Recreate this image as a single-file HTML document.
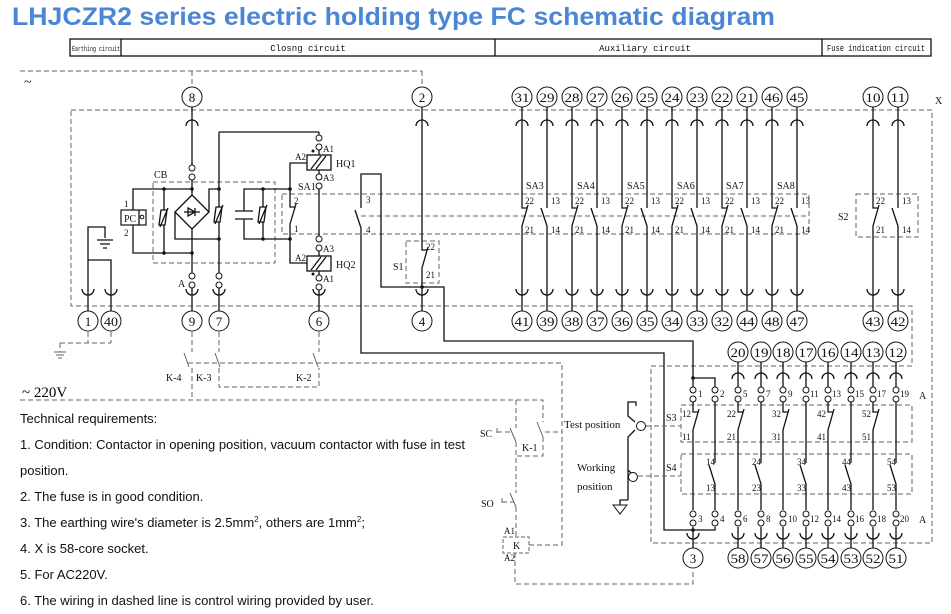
<!DOCTYPE html>
<html><head><meta charset="utf-8"><style>
html,body{margin:0;padding:0;background:#fff;}
svg{display:block;}
.s{stroke:#111;stroke-width:1.3;fill:none;}
.d{stroke:#666;stroke-width:1;fill:none;stroke-dasharray:5,3;}
.t{fill:#fff;stroke:#111;stroke-width:1;}
.n{font-family:"Liberation Serif",serif;font-size:13px;text-anchor:middle;fill:#111;}
.l{font-family:"Liberation Serif",serif;font-size:10px;fill:#111;}
.m{font-family:"Liberation Serif",serif;font-size:9px;fill:#111;}
.h{font-family:"Liberation Mono",monospace;font-size:9px;fill:#111;text-anchor:middle;}
.r{font-family:"Liberation Sans",Arial,sans-serif;font-size:13px;fill:#111;}
</style></head><body>
<svg width="951" height="614" viewBox="0 0 951 614" xmlns="http://www.w3.org/2000/svg">
<defs>
<path id="ta" d="M-6,4 A6,6 0 0 1 6,4" style="stroke:#111;stroke-width:1.3;fill:none"/>
<path id="ba" d="M-6,-4 A6,6 0 0 0 6,-4" style="stroke:#111;stroke-width:1.3;fill:none"/>
<g id="tp"><circle cx="0" cy="0" r="3" class="t"/><circle cx="0" cy="9" r="3" class="t"/></g>
</defs>
<text x="12" y="25" textLength="763" lengthAdjust="spacingAndGlyphs" style="font-family:'Liberation Sans',Arial,sans-serif;font-weight:bold;font-size:25px;fill:#4a86d4">LHJCZR2 series electric holding type FC schematic diagram</text>
<!-- header -->
<rect x="70" y="39" width="861" height="17" fill="none" stroke="#111" stroke-width="1.3"/>
<path class="s" d="M121,39V56M495,39V56M822,39V56"/>
<text x="96" y="51" class="h" style="font-size:7px" textLength="48" lengthAdjust="spacingAndGlyphs">Earthing circuit</text>
<text x="308" y="51" class="h">Closng circuit</text>
<text x="645" y="51" class="h">Auxiliary circuit</text>
<text x="876" y="51" class="h" textLength="98" lengthAdjust="spacingAndGlyphs">Fuse indication circuit</text>
<text x="24" y="86" style="font-family:'Liberation Serif',serif;font-size:14px">~</text>
<text x="935" y="104" class="l">X</text>
<!-- dashed frames -->
<path class="d" d="M20,71H422M192,71V86M422,71V86"/>
<path class="d" d="M71,110H932V543H651V366H912V306H71Z"/>
<path class="d" d="M153,182H275V263H153Z"/>
<path class="d" d="M282,194H809V234H282ZM361,216H809"/>
<path class="d" d="M406,241H439V283H406Z"/>
<path class="d" d="M856,194H918V237H856Z"/>
<path class="d" d="M681,405H912V442H681ZM681,454H912V494H681Z"/>
<!-- top circles left -->
<circle cx="192" cy="97" r="10" class="t"/><text x="192" y="102" class="n">8</text>
<circle cx="422" cy="97" r="10" class="t"/><text x="422" y="102" class="n">2</text>
<!-- bottom circles left -->
<circle cx="88" cy="321" r="10" class="t"/><text x="88" y="326" class="n">1</text>
<circle cx="111" cy="321" r="10" class="t"/><text x="111" y="326" class="n" textLength="14" lengthAdjust="spacingAndGlyphs">40</text>
<circle cx="192" cy="321" r="10" class="t"/><text x="192" y="326" class="n">9</text>
<circle cx="219" cy="321" r="10" class="t"/><text x="219" y="326" class="n">7</text>
<circle cx="319" cy="321" r="10" class="t"/><text x="319" y="326" class="n">6</text>
<circle cx="422" cy="321" r="10" class="t"/><text x="422" y="326" class="n">4</text>
<!-- earthing -->
<path class="s" d="M88,311V227H105V238M97,240H113M100,244H110M103,248H107M88,260H111V311"/>
<use href="#ba" x="88" y="293"/><use href="#ba" x="111" y="293"/>
<!-- PC -->
<rect x="121" y="210" width="25" height="15" fill="#fff" stroke="#111" stroke-width="1.2"/>
<path class="s" d="M139,210V225"/><circle cx="142" cy="217" r="1.8" class="t"/>
<text x="124" y="222" class="l">PC</text>
<text x="124" y="207" class="m">1</text><text x="124" y="236" class="m">2</text>
<path class="s" d="M133,210V189H192M133,225V253H192"/>
<!-- CB components -->
<text x="154" y="178" class="l">CB</text>
<path class="s" d="M164,189V253"/>
<path class="s" d="M161,210L167,210L165,225L159,225Z" style="fill:#fff"/><path class="s" d="M160,227L168,208"/>
<path class="s" d="M192,107V165M192,180V195L209,212L192,229L175,212L192,195M192,229V273M192,288V311"/>
<use href="#ta" x="192" y="122"/><use href="#tp" x="192" y="168"/><use href="#tp" x="192" y="276"/><use href="#ba" x="192" y="293"/>
<path class="s" d="M184,212H200M188,208V216L195,212ZM195,208V216"/>
<path class="s" d="M175,212V239H219M209,212V189H219"/>
<path class="s" d="M219,132V273M219,288V311M219,132H319"/>
<use href="#tp" x="219" y="276"/><use href="#ba" x="219" y="293"/>
<path class="s" d="M216,207L222,207L220,222L214,222Z" style="fill:#fff"/><path class="s" d="M215,224L223,205"/>
<path class="s" d="M263,189H244V211M244,219V239H263M235,211H253M235,219H253M263,189V239M263,189H290M263,239H290"/>
<path class="s" d="M260,207L266,207L264,222L258,222Z" style="fill:#fff"/><path class="s" d="M259,224L267,205"/>
<text x="178" y="287" class="l">A</text>
<circle cx="164" cy="189" r="1.8" fill="#111"/><circle cx="164" cy="253" r="1.8" fill="#111"/>
<circle cx="192" cy="189" r="1.8" fill="#111"/><circle cx="192" cy="253" r="1.8" fill="#111"/>
<circle cx="219" cy="189" r="1.8" fill="#111"/><circle cx="219" cy="239" r="1.8" fill="#111"/>
<circle cx="263" cy="189" r="1.8" fill="#111"/><circle cx="263" cy="239" r="1.8" fill="#111"/>
<circle cx="290" cy="189" r="1.8" fill="#111"/><circle cx="290" cy="239" r="1.8" fill="#111"/>
<!-- HQ & SA1 -->
<path class="s" d="M307,163H290V207h5M296,204L290,224V263H307"/>
<text x="294" y="204" class="m">2</text><text x="294" y="232" class="m">1</text>
<path class="s" d="M319,132V135M319,150V155M319,170V174M319,189V236M319,251V256M319,270V275M319,290V311"/>
<use href="#tp" x="319" y="138"/><use href="#tp" x="319" y="177"/><use href="#tp" x="319" y="239"/><use href="#tp" x="319" y="278"/><use href="#ba" x="319" y="293"/>
<rect x="307" y="155" width="24" height="15" fill="#fff" stroke="#111" stroke-width="1.3"/>
<rect x="307" y="256" width="24" height="15" fill="#fff" stroke="#111" stroke-width="1.3"/>
<path class="s" d="M311,169L321,156M316,169L326,156M311,270L321,257M316,270L326,257"/>
<circle cx="313" cy="151" r="1.5" fill="#111"/><circle cx="313" cy="274" r="1.5" fill="#111"/>
<text x="323" y="152" class="m">A1</text><text x="295" y="160" class="m">A2</text><text x="336" y="167" class="l">HQ1</text>
<text x="323" y="181" class="m">A3</text><text x="298" y="190" class="l">SA1</text>
<text x="323" y="252" class="m">A3</text><text x="295" y="261" class="m">A2</text><text x="336" y="268" class="l">HQ2</text>
<text x="323" y="282" class="m">A1</text>
<!-- switch 3-4 & wires -->
<path class="s" d="M361,208V174H381V287H444V341H693V387M355,210L361,228V353H664V530H715V527"/>
<text x="366" y="203" class="m">3</text><text x="366" y="233" class="m">4</text>
<!-- S1 -->
<path class="s" d="M422,107V250h5M428,247L422,268V311"/>
<use href="#ta" x="422" y="122"/><use href="#ba" x="422" y="293"/>
<circle cx="422" cy="287" r="1.8" fill="#111"/>
<text x="426" y="250" class="m">22</text><text x="426" y="278" class="m">21</text>
<text x="393" y="270" class="l">S1</text>
<!-- aux columns -->
<g>
<circle cx="522" cy="97" r="10" class="t"/><text x="522" y="102" class="n" textLength="15" lengthAdjust="spacingAndGlyphs">31</text>
<circle cx="547" cy="97" r="10" class="t"/><text x="547" y="102" class="n" textLength="15" lengthAdjust="spacingAndGlyphs">29</text>
<circle cx="572" cy="97" r="10" class="t"/><text x="572" y="102" class="n" textLength="15" lengthAdjust="spacingAndGlyphs">28</text>
<circle cx="597" cy="97" r="10" class="t"/><text x="597" y="102" class="n" textLength="15" lengthAdjust="spacingAndGlyphs">27</text>
<circle cx="622" cy="97" r="10" class="t"/><text x="622" y="102" class="n" textLength="15" lengthAdjust="spacingAndGlyphs">26</text>
<circle cx="647" cy="97" r="10" class="t"/><text x="647" y="102" class="n" textLength="15" lengthAdjust="spacingAndGlyphs">25</text>
<circle cx="672" cy="97" r="10" class="t"/><text x="672" y="102" class="n" textLength="15" lengthAdjust="spacingAndGlyphs">24</text>
<circle cx="697" cy="97" r="10" class="t"/><text x="697" y="102" class="n" textLength="15" lengthAdjust="spacingAndGlyphs">23</text>
<circle cx="722" cy="97" r="10" class="t"/><text x="722" y="102" class="n" textLength="15" lengthAdjust="spacingAndGlyphs">22</text>
<circle cx="747" cy="97" r="10" class="t"/><text x="747" y="102" class="n" textLength="15" lengthAdjust="spacingAndGlyphs">21</text>
<circle cx="772" cy="97" r="10" class="t"/><text x="772" y="102" class="n" textLength="15" lengthAdjust="spacingAndGlyphs">46</text>
<circle cx="797" cy="97" r="10" class="t"/><text x="797" y="102" class="n" textLength="15" lengthAdjust="spacingAndGlyphs">45</text>
<circle cx="873" cy="97" r="10" class="t"/><text x="873" y="102" class="n" textLength="15" lengthAdjust="spacingAndGlyphs">10</text>
<circle cx="898" cy="97" r="10" class="t"/><text x="898" y="102" class="n" textLength="15" lengthAdjust="spacingAndGlyphs">11</text>
<circle cx="522" cy="321" r="10" class="t"/><text x="522" y="326" class="n" textLength="15" lengthAdjust="spacingAndGlyphs">41</text>
<circle cx="547" cy="321" r="10" class="t"/><text x="547" y="326" class="n" textLength="15" lengthAdjust="spacingAndGlyphs">39</text>
<circle cx="572" cy="321" r="10" class="t"/><text x="572" y="326" class="n" textLength="15" lengthAdjust="spacingAndGlyphs">38</text>
<circle cx="597" cy="321" r="10" class="t"/><text x="597" y="326" class="n" textLength="15" lengthAdjust="spacingAndGlyphs">37</text>
<circle cx="622" cy="321" r="10" class="t"/><text x="622" y="326" class="n" textLength="15" lengthAdjust="spacingAndGlyphs">36</text>
<circle cx="647" cy="321" r="10" class="t"/><text x="647" y="326" class="n" textLength="15" lengthAdjust="spacingAndGlyphs">35</text>
<circle cx="672" cy="321" r="10" class="t"/><text x="672" y="326" class="n" textLength="15" lengthAdjust="spacingAndGlyphs">34</text>
<circle cx="697" cy="321" r="10" class="t"/><text x="697" y="326" class="n" textLength="15" lengthAdjust="spacingAndGlyphs">33</text>
<circle cx="722" cy="321" r="10" class="t"/><text x="722" y="326" class="n" textLength="15" lengthAdjust="spacingAndGlyphs">32</text>
<circle cx="747" cy="321" r="10" class="t"/><text x="747" y="326" class="n" textLength="15" lengthAdjust="spacingAndGlyphs">44</text>
<circle cx="772" cy="321" r="10" class="t"/><text x="772" y="326" class="n" textLength="15" lengthAdjust="spacingAndGlyphs">48</text>
<circle cx="797" cy="321" r="10" class="t"/><text x="797" y="326" class="n" textLength="15" lengthAdjust="spacingAndGlyphs">47</text>
<circle cx="873" cy="321" r="10" class="t"/><text x="873" y="326" class="n" textLength="15" lengthAdjust="spacingAndGlyphs">43</text>
<circle cx="898" cy="321" r="10" class="t"/><text x="898" y="326" class="n" textLength="15" lengthAdjust="spacingAndGlyphs">42</text>
</g>
<path class="s" d="M522,107V208h5M528,205L522,226V311M547,107V208M541,208L547,226V311
M572,107V208h5M578,205L572,226V311M597,107V208M591,208L597,226V311
M622,107V208h5M628,205L622,226V311M647,107V208M641,208L647,226V311
M672,107V208h5M678,205L672,226V311M697,107V208M691,208L697,226V311
M722,107V208h5M728,205L722,226V311M747,107V208M741,208L747,226V311
M772,107V208h5M778,205L772,226V311M797,107V208M791,208L797,226V311
M873,107V208h5M879,205L873,226V311M898,107V208M892,208L898,226V311"/>
<g>
<use href="#ta" x="522" y="122"/><use href="#ta" x="547" y="122"/><use href="#ta" x="572" y="122"/><use href="#ta" x="597" y="122"/><use href="#ta" x="622" y="122"/><use href="#ta" x="647" y="122"/><use href="#ta" x="672" y="122"/><use href="#ta" x="697" y="122"/><use href="#ta" x="722" y="122"/><use href="#ta" x="747" y="122"/><use href="#ta" x="772" y="122"/><use href="#ta" x="797" y="122"/><use href="#ta" x="873" y="122"/><use href="#ta" x="898" y="122"/>
<use href="#ba" x="522" y="293"/><use href="#ba" x="547" y="293"/><use href="#ba" x="572" y="293"/><use href="#ba" x="597" y="293"/><use href="#ba" x="622" y="293"/><use href="#ba" x="647" y="293"/><use href="#ba" x="672" y="293"/><use href="#ba" x="697" y="293"/><use href="#ba" x="722" y="293"/><use href="#ba" x="747" y="293"/><use href="#ba" x="772" y="293"/><use href="#ba" x="797" y="293"/><use href="#ba" x="873" y="293"/><use href="#ba" x="898" y="293"/>
</g>
<g class="m">
<text x="525" y="204">22</text><text x="551" y="204">13</text><text x="525" y="233">21</text><text x="551" y="233">14</text>
<text x="575" y="204">22</text><text x="601" y="204">13</text><text x="575" y="233">21</text><text x="601" y="233">14</text>
<text x="625" y="204">22</text><text x="651" y="204">13</text><text x="625" y="233">21</text><text x="651" y="233">14</text>
<text x="675" y="204">22</text><text x="701" y="204">13</text><text x="675" y="233">21</text><text x="701" y="233">14</text>
<text x="725" y="204">22</text><text x="751" y="204">13</text><text x="725" y="233">21</text><text x="751" y="233">14</text>
<text x="775" y="204">22</text><text x="801" y="204">13</text><text x="775" y="233">21</text><text x="801" y="233">14</text>
<text x="876" y="204">22</text><text x="902" y="204">13</text><text x="876" y="233">21</text><text x="902" y="233">14</text>
</g>
<g class="l">
<text x="526" y="189">SA3</text><text x="577" y="189">SA4</text><text x="627" y="189">SA5</text><text x="677" y="189">SA6</text><text x="726" y="189">SA7</text><text x="777" y="189">SA8</text>
<text x="838" y="220">S2</text>
</g>
<!-- lower left dashed control -->
<path class="d" d="M88,332V343M111,332V343M60,343H111M60,343V352"/>
<path class="s" style="stroke:#666;stroke-width:1" d="M54,352H66M56,355H64M58,358H62"/>
<path class="d" d="M192,332V352M219,332V352M319,332V352"/>
<path class="s" style="stroke:#666;stroke-width:1" d="M184,353L189,367M215,353L220,367M313,353L318,367M537,422L543,437M510,428L516,442M510,493L516,507"/>
<path class="d" d="M188,363H562V545H529M192,368V400M219,368V387H319V368M20,400H543V422M543,437V456H516M516,400V428M516,442V493M516,507V537M497,432H512M497,428V436M502,502H514M502,498V506M545,432H562M515,553V584H693V569"/>
<text x="166" y="381" class="l">K-4</text><text x="196" y="381" class="l">K-3</text><text x="296" y="381" class="l">K-2</text>
<text x="22" y="397" style="font-family:'Liberation Serif',serif;font-size:15px">~ 220V</text>
<text x="522" y="451" class="l">K-1</text>
<text x="480" y="437" class="l">SC</text><text x="481" y="507" class="l">SO</text>
<rect x="503" y="537" width="26" height="16" fill="#fff" stroke="#666" stroke-dasharray="4,2"/>
<text x="513" y="549" class="l">K</text><text x="504" y="534" class="m">A1</text><text x="504" y="561" class="m">A2</text>
<!-- mechanism -->
<path class="s" d="M628,500V437L635,430M635,422L628,416V402H636V406M628,470L632,474M628,480V470M628,500H620V505"/>
<circle cx="641" cy="426" r="4.5" class="t"/><circle cx="633" cy="477" r="4.5" class="t"/>
<path class="s" style="stroke-width:1" d="M613,505H627L620,514Z"/>
<path class="d" d="M646,426H681M638,476H681"/>
<text x="564" y="428" class="l" style="font-size:11px">Test position</text>
<text x="577" y="471" class="l" style="font-size:11px">Working</text>
<text x="577" y="490" class="l" style="font-size:11px">position</text>
<text x="666" y="421" class="l">S3</text><text x="666" y="471" class="l">S4</text>
<!-- right lower columns -->
<g>
<circle cx="738" cy="352" r="10" class="t"/><text x="738" y="357" class="n" textLength="15" lengthAdjust="spacingAndGlyphs">20</text>
<circle cx="761" cy="352" r="10" class="t"/><text x="761" y="357" class="n" textLength="15" lengthAdjust="spacingAndGlyphs">19</text>
<circle cx="783" cy="352" r="10" class="t"/><text x="783" y="357" class="n" textLength="15" lengthAdjust="spacingAndGlyphs">18</text>
<circle cx="806" cy="352" r="10" class="t"/><text x="806" y="357" class="n" textLength="15" lengthAdjust="spacingAndGlyphs">17</text>
<circle cx="828" cy="352" r="10" class="t"/><text x="828" y="357" class="n" textLength="15" lengthAdjust="spacingAndGlyphs">16</text>
<circle cx="851" cy="352" r="10" class="t"/><text x="851" y="357" class="n" textLength="15" lengthAdjust="spacingAndGlyphs">14</text>
<circle cx="873" cy="352" r="10" class="t"/><text x="873" y="357" class="n" textLength="15" lengthAdjust="spacingAndGlyphs">13</text>
<circle cx="896" cy="352" r="10" class="t"/><text x="896" y="357" class="n" textLength="15" lengthAdjust="spacingAndGlyphs">12</text>
<circle cx="693" cy="558" r="10" class="t"/><text x="693" y="563" class="n">3</text>
<circle cx="738" cy="558" r="10" class="t"/><text x="738" y="563" class="n" textLength="15" lengthAdjust="spacingAndGlyphs">58</text>
<circle cx="761" cy="558" r="10" class="t"/><text x="761" y="563" class="n" textLength="15" lengthAdjust="spacingAndGlyphs">57</text>
<circle cx="783" cy="558" r="10" class="t"/><text x="783" y="563" class="n" textLength="15" lengthAdjust="spacingAndGlyphs">56</text>
<circle cx="806" cy="558" r="10" class="t"/><text x="806" y="563" class="n" textLength="15" lengthAdjust="spacingAndGlyphs">55</text>
<circle cx="828" cy="558" r="10" class="t"/><text x="828" y="563" class="n" textLength="15" lengthAdjust="spacingAndGlyphs">54</text>
<circle cx="851" cy="558" r="10" class="t"/><text x="851" y="563" class="n" textLength="15" lengthAdjust="spacingAndGlyphs">53</text>
<circle cx="873" cy="558" r="10" class="t"/><text x="873" y="563" class="n" textLength="15" lengthAdjust="spacingAndGlyphs">52</text>
<circle cx="896" cy="558" r="10" class="t"/><text x="896" y="563" class="n" textLength="15" lengthAdjust="spacingAndGlyphs">51</text>
</g>
<path class="s" d="M693,378H715V387M738,362V387M761,362V387M783,362V387M806,362V387M828,362V387M851,362V387M873,362V387M896,362V387
M693,402V412h5M699,409L693,430V510M715,402V463M709,465L715,484V510
M738,402V412h5M744,409L738,430V510M761,402V463M755,465L761,484V510
M783,402V412h5M789,409L783,430V510M806,402V463M800,465L806,484V510
M828,402V412h5M834,409L828,430V510M851,402V463M845,465L851,484V510
M873,402V412h5M879,409L873,430V510M896,402V463M890,465L896,484V510
M693,527V548M738,527V548M761,527V548M783,527V548M806,527V548M828,527V548M851,527V548M873,527V548M896,527V548"/>
<circle cx="693" cy="378" r="1.8" fill="#111"/><circle cx="693" cy="530" r="1.8" fill="#111"/>
<g>
<use href="#ta" x="738" y="375"/><use href="#ta" x="761" y="375"/><use href="#ta" x="783" y="375"/><use href="#ta" x="806" y="375"/><use href="#ta" x="828" y="375"/><use href="#ta" x="851" y="375"/><use href="#ta" x="873" y="375"/><use href="#ta" x="896" y="375"/>
<use href="#tp" x="693" y="390"/><use href="#tp" x="715" y="390"/><use href="#tp" x="738" y="390"/><use href="#tp" x="761" y="390"/><use href="#tp" x="783" y="390"/><use href="#tp" x="806" y="390"/><use href="#tp" x="828" y="390"/><use href="#tp" x="851" y="390"/><use href="#tp" x="873" y="390"/><use href="#tp" x="896" y="390"/>
<use href="#tp" x="693" y="514"/><use href="#tp" x="715" y="514"/><use href="#tp" x="738" y="514"/><use href="#tp" x="761" y="514"/><use href="#tp" x="783" y="514"/><use href="#tp" x="806" y="514"/><use href="#tp" x="828" y="514"/><use href="#tp" x="851" y="514"/><use href="#tp" x="873" y="514"/><use href="#tp" x="896" y="514"/>
<use href="#ba" x="693" y="537"/><use href="#ba" x="738" y="537"/><use href="#ba" x="761" y="537"/><use href="#ba" x="783" y="537"/><use href="#ba" x="806" y="537"/><use href="#ba" x="828" y="537"/><use href="#ba" x="851" y="537"/><use href="#ba" x="873" y="537"/><use href="#ba" x="896" y="537"/>
</g>
<g class="m">
<text x="698" y="397">1</text><text x="720" y="397">2</text><text x="743" y="397">5</text><text x="766" y="397">7</text><text x="788" y="397">9</text><text x="810" y="397">11</text><text x="832" y="397">13</text><text x="855" y="397">15</text><text x="877" y="397">17</text><text x="900" y="397">19</text>
<text x="698" y="522">3</text><text x="720" y="522">4</text><text x="743" y="522">6</text><text x="766" y="522">8</text><text x="788" y="522">10</text><text x="810" y="522">12</text><text x="832" y="522">14</text><text x="855" y="522">16</text><text x="877" y="522">18</text><text x="900" y="522">20</text>
<text x="682" y="417">12</text><text x="682" y="440">11</text>
<text x="727" y="417">22</text><text x="727" y="440">21</text>
<text x="772" y="417">32</text><text x="772" y="440">31</text>
<text x="817" y="417">42</text><text x="817" y="440">41</text>
<text x="862" y="417">52</text><text x="862" y="440">51</text>
<text x="706" y="465">14</text><text x="706" y="491">13</text>
<text x="752" y="465">24</text><text x="752" y="491">23</text>
<text x="797" y="465">34</text><text x="797" y="491">33</text>
<text x="842" y="465">44</text><text x="842" y="491">43</text>
<text x="887" y="465">54</text><text x="887" y="491">53</text>
</g>
<text x="919" y="399" class="l">A</text><text x="919" y="523" class="l">A</text>
<!-- notes -->
<text x="20" y="423" class="r">Technical requirements:</text>
<text x="20" y="449" class="r" textLength="445" lengthAdjust="spacing">1.  Condition: Contactor in opening position, vacuum contactor with fuse in test</text>
<text x="20" y="475" class="r">position.</text>
<text x="20" y="501" class="r">2.  The fuse is in good condition.</text>
<text x="20" y="527" class="r">3. The earthing wire's diameter is 2.5mm<tspan dy="-5" style="font-size:8px">2</tspan><tspan dy="5">, others are 1mm</tspan><tspan dy="-5" style="font-size:8px">2</tspan><tspan dy="5">;</tspan></text>
<text x="20" y="553" class="r">4. X is 58-core socket.</text>
<text x="20" y="579" class="r">5. For AC220V.</text>
<text x="20" y="605" class="r">6. The wiring in dashed line is control wiring provided by user.</text>
</svg>
</body></html>
